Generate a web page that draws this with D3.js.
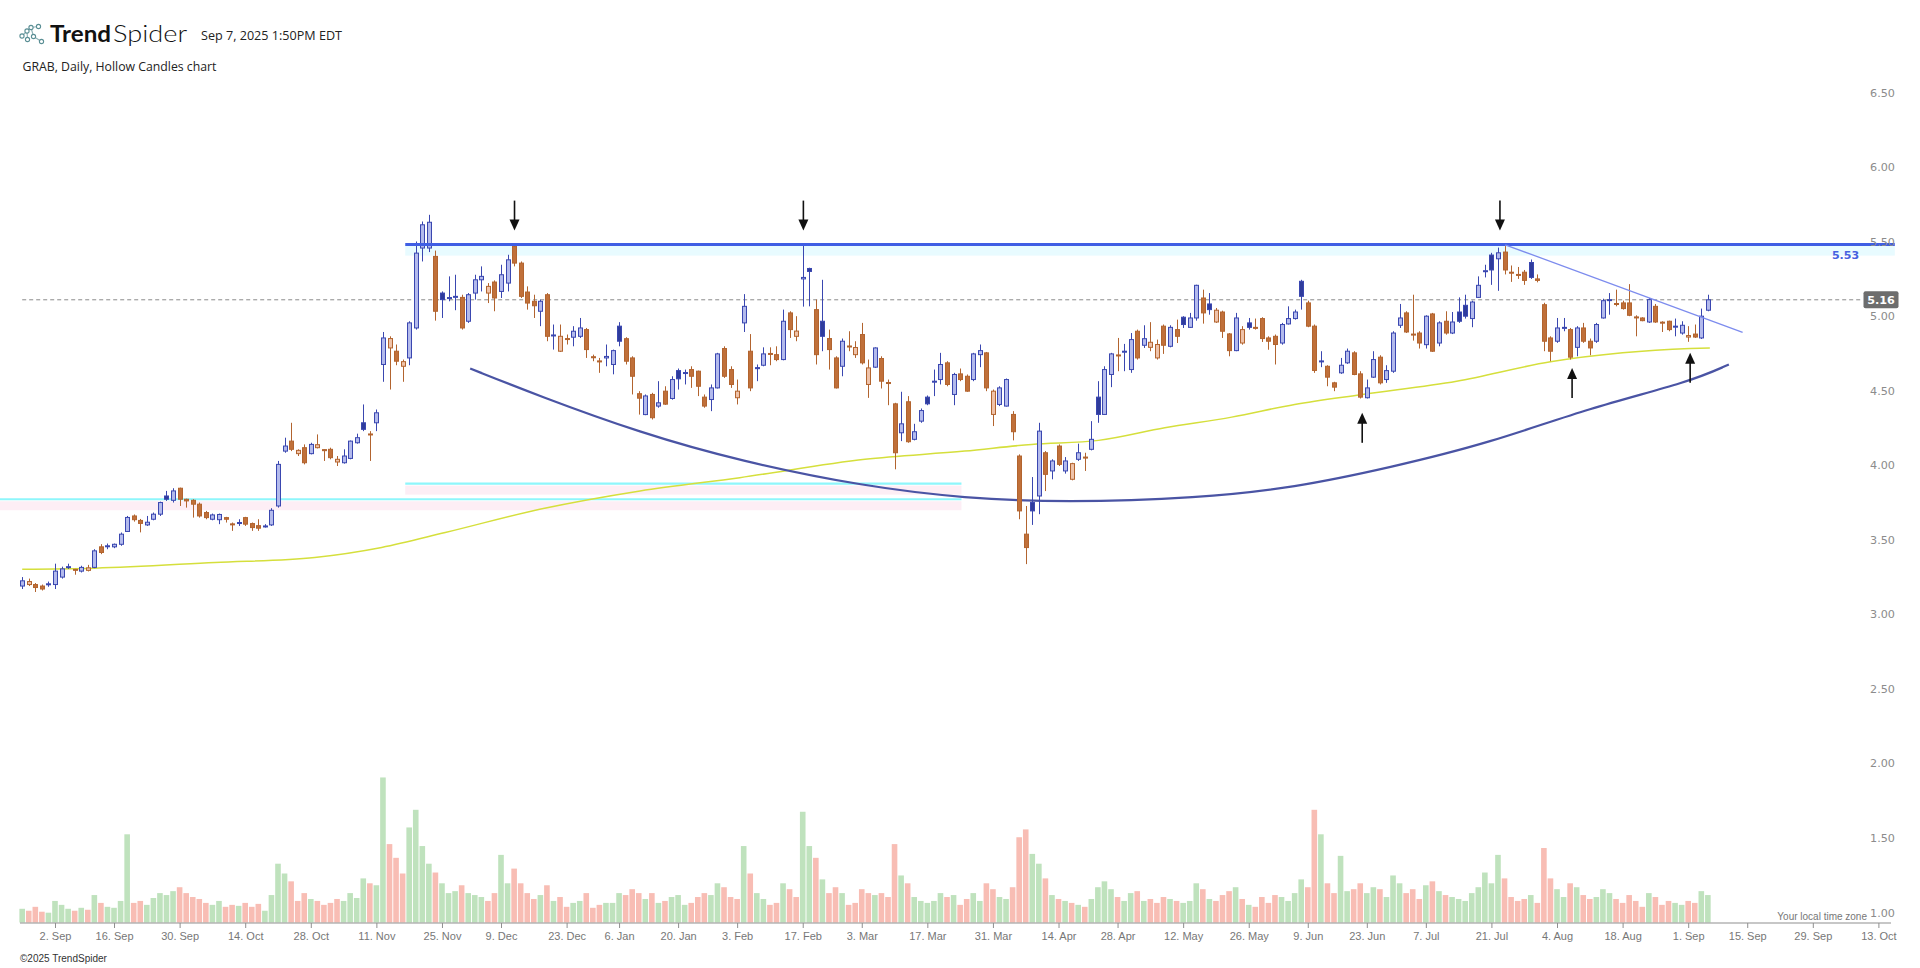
<!DOCTYPE html>
<html><head><meta charset="utf-8">
<script src="https://cdn.jsdelivr.net/npm/d3@7"></script>
<style>
html,body{margin:0;padding:0;background:#fff;}
svg{display:block;}
</style></head><body>
<svg id="chart" width="1920" height="968"></svg>
<script>
// ---------- categories ----------
const startDate = "2024-08-26";
const axisEndDate = "2025-10-17";
const holidays = ["2024-09-02","2024-11-28","2024-12-25","2025-01-01","2025-01-09","2025-01-20",
  "2025-02-17","2025-04-18","2025-05-26","2025-06-19","2025-07-04","2025-09-01"];
const xTickDates = ["2024-09-02","2024-09-16","2024-09-30","2024-10-14","2024-10-28","2024-11-11","2024-11-25",
  "2024-12-09","2024-12-23","2025-01-06","2025-01-20","2025-02-03","2025-02-17","2025-03-03","2025-03-17",
  "2025-03-31","2025-04-14","2025-04-28","2025-05-12","2025-05-26","2025-06-09","2025-06-23","2025-07-07",
  "2025-07-21","2025-08-04","2025-08-18","2025-09-01","2025-09-15","2025-09-29","2025-10-13"];
const xTickLabels = ["2. Sep","16. Sep","30. Sep","14. Oct","28. Oct","11. Nov","25. Nov","9. Dec","23. Dec",
  "6. Jan","20. Jan","3. Feb","17. Feb","3. Mar","17. Mar","31. Mar","14. Apr","28. Apr","12. May","26. May",
  "9. Jun","23. Jun","7. Jul","21. Jul","4. Aug","18. Aug","1. Sep","15. Sep","29. Sep","13. Oct"];
const yTickValues = [1.0,1.5,2.0,2.5,3.0,3.5,4.0,4.5,5.0,5.5,6.0,6.5];

// ---------- series values (GRAB daily) ----------
const opens = [
3.24,3.25,3.25,3.24,3.25,3.25,3.30,3.365,3.352,3.34,
3.345,3.365,3.503,3.505,3.503,3.52,3.606,3.71,3.68,3.65,
3.688,3.722,3.844,3.815,3.896,3.822,3.815,3.789,3.733,3.688,
3.685,3.699,3.657,3.66,3.699,3.659,3.645,3.64,3.65,3.777,
4.145,4.212,4.128,4.168,4.128,4.168,4.155,4.157,4.072,4.067,
4.096,4.201,4.335,4.26,4.335,4.726,4.837,4.815,4.714,4.77,
4.971,5.507,5.507,5.451,5.205,5.168,5.178,5.176,5.016,5.205,
5.294,5.205,5.279,5.216,5.272,5.518,5.406,5.212,5.15,5.083,
5.194,4.92,4.815,4.90,4.909,4.915,4.96,4.778,4.75,4.77,
4.726,4.983,4.899,4.77,4.53,4.39,4.525,4.447,4.547,4.498,
4.685,4.67,4.692,4.681,4.507,4.491,4.569,4.833,4.692,4.503,
5.005,4.815,4.705,4.721,4.80,4.792,4.759,5.072,4.915,5.30,
5.37,5.094,5.016,4.90,4.77,4.714,4.85,4.792,4.927,4.592,
4.708,4.766,4.605,4.462,4.268,4.476,4.224,4.346,4.507,4.612,
4.625,4.737,4.525,4.663,4.647,4.625,4.792,4.804,4.391,4.458,
4.447,4.391,4.112,3.588,3.80,3.844,4.134,4.012,4.179,4.012,
3.956,4.09,4.105,4.157,4.507,4.391,4.659,4.79,4.81,4.692,
4.949,4.855,4.841,4.77,4.983,4.848,4.96,5.043,4.975,5.038,
5.172,5.132,5.011,5.078,4.931,4.819,4.87,5.005,4.975,5.034,
4.904,4.915,4.87,4.998,5.034,5.284,5.139,4.983,4.745,4.714,
4.603,4.67,4.737,4.804,4.663,4.503,4.641,4.775,4.625,4.681,
4.989,5.072,4.93,4.937,4.859,5.065,4.87,5.016,4.937,5.078,
5.123,5.034,5.176,5.35,5.46,5.435,5.48,5.345,5.33,5.345,
5.41,5.30,5.127,4.904,4.882,4.97,4.96,4.841,4.971,4.882,
4.882,5.038,5.158,5.135,5.139,5.139,5.045,5.038,5.011,5.116,
5.01,5.016,4.98,4.937,4.91,4.93,4.904,5.09];
const highs = [
3.30,3.29,3.26,3.25,3.27,3.39,3.37,3.39,3.355,3.376,
3.382,3.487,3.521,3.525,3.525,3.599,3.71,3.72,3.69,3.71,
3.733,3.806,3.878,3.896,3.90,3.826,3.822,3.80,3.744,3.726,
3.726,3.704,3.666,3.688,3.704,3.666,3.688,3.655,3.762,4.079,
4.235,4.335,4.157,4.19,4.201,4.257,4.157,4.168,4.112,4.157,
4.216,4.262,4.458,4.279,4.424,4.944,4.915,4.86,4.759,5.016,
5.551,5.685,5.73,5.49,5.216,5.317,5.328,5.194,5.205,5.328,
5.384,5.272,5.29,5.395,5.462,5.53,5.417,5.25,5.194,5.161,
5.205,4.994,4.994,4.927,4.983,5.038,4.971,4.792,4.77,4.86,
4.826,5.01,4.909,4.781,4.547,4.525,4.536,4.614,4.58,4.647,
4.699,4.692,4.714,4.685,4.525,4.592,4.804,4.848,4.714,4.625,
5.198,4.93,4.726,4.841,4.841,4.848,5.094,5.083,5.05,5.54,
5.375,5.161,5.294,4.96,4.781,4.90,4.949,4.882,5.005,4.759,
4.841,4.781,4.625,4.469,4.543,4.514,4.328,4.431,4.518,4.692,
4.804,4.748,4.67,4.699,4.659,4.804,4.86,4.81,4.558,4.58,
4.632,4.413,4.123,3.777,3.971,4.335,4.145,4.09,4.19,4.105,
4.067,4.195,4.134,4.346,4.614,4.714,4.804,4.904,4.864,4.937,
4.96,4.989,5.01,4.893,4.994,4.989,5.027,5.05,5.072,5.261,
5.228,5.205,5.105,5.087,4.937,5.072,4.983,5.038,5.034,5.043,
4.915,4.927,5.005,5.116,5.094,5.294,5.154,4.994,4.815,4.721,
4.61,4.77,4.833,4.815,4.681,4.625,4.815,4.788,4.721,4.949,
5.132,5.083,5.194,4.949,5.056,5.072,5.016,5.083,5.078,5.176,
5.194,5.154,5.317,5.395,5.475,5.51,5.52,5.39,5.38,5.36,
5.43,5.33,5.14,4.915,5.038,5.038,4.971,4.983,5.005,4.90,
5.005,5.167,5.205,5.228,5.154,5.265,5.056,5.043,5.172,5.132,
5.016,5.02,5.034,5.016,4.983,4.994,5.101,5.194];
const lows = [
3.22,3.24,3.20,3.21,3.235,3.22,3.29,3.355,3.316,3.331,
3.338,3.36,3.454,3.487,3.494,3.51,3.603,3.672,3.60,3.643,
3.681,3.71,3.811,3.80,3.777,3.766,3.699,3.699,3.688,3.681,
3.655,3.666,3.61,3.643,3.643,3.61,3.61,3.632,3.643,3.766,
4.134,4.145,4.112,4.056,4.123,4.163,4.079,4.09,4.045,4.061,
4.09,4.195,4.279,4.079,4.279,4.61,4.558,4.721,4.61,4.721,
4.96,5.417,5.48,5.02,5.038,5.15,5.09,4.96,5.005,5.161,
5.216,5.138,5.083,5.172,5.216,5.384,5.172,5.094,5.038,4.983,
4.882,4.826,4.81,4.86,4.848,4.904,4.77,4.748,4.67,4.714,
4.66,4.848,4.726,4.525,4.39,4.386,4.357,4.436,4.455,4.49,
4.558,4.592,4.569,4.514,4.436,4.413,4.565,4.636,4.569,4.458,
4.944,4.547,4.614,4.714,4.721,4.748,4.754,4.904,4.882,5.114,
5.116,4.726,4.815,4.692,4.565,4.647,4.815,4.77,4.726,4.502,
4.703,4.565,4.453,4.023,4.212,4.201,4.217,4.335,4.453,4.514,
4.592,4.58,4.453,4.614,4.543,4.614,4.708,4.547,4.313,4.447,
4.444,4.217,3.688,3.387,3.65,3.722,3.877,3.956,4.045,3.994,
3.949,4.079,4.012,4.15,4.335,4.387,4.574,4.681,4.681,4.67,
4.759,4.837,4.815,4.759,4.797,4.841,4.87,4.971,4.971,5.02,
5.00,5.06,5.005,4.904,4.781,4.815,4.859,4.96,4.96,4.877,
4.825,4.726,4.859,4.994,5.027,5.094,4.976,4.67,4.708,4.58,
4.547,4.663,4.73,4.654,4.498,4.498,4.636,4.592,4.603,4.67,
4.971,4.937,4.886,4.833,4.833,4.81,4.848,4.926,4.93,5.005,
5.034,4.976,5.172,5.31,5.26,5.22,5.33,5.28,5.30,5.26,
5.30,5.277,4.815,4.748,4.871,4.949,4.759,4.781,4.871,4.788,
4.871,5.034,5.06,5.116,5.094,5.05,4.915,5.016,5.005,5.005,
4.944,4.949,4.915,4.926,4.878,4.904,4.897,5.083];
const closes = [
3.275,3.27,3.23,3.22,3.255,3.34,3.355,3.37,3.348,3.365,
3.362,3.476,3.465,3.51,3.52,3.588,3.70,3.685,3.66,3.668,
3.722,3.80,3.822,3.878,3.822,3.811,3.789,3.71,3.699,3.717,
3.72,3.688,3.655,3.666,3.655,3.632,3.628,3.643,3.748,4.056,
4.179,4.157,4.15,4.067,4.19,4.188,4.148,4.101,4.09,4.112,
4.212,4.235,4.291,4.257,4.402,4.904,4.90,4.748,4.745,5.005,
5.473,5.663,5.68,5.083,5.161,5.175,5.183,4.971,5.194,5.294,
5.317,5.25,5.172,5.328,5.428,5.406,5.183,5.138,5.12,5.15,
4.915,4.924,4.915,4.899,4.949,4.971,4.826,4.776,4.748,4.78,
4.819,4.882,4.748,4.647,4.50,4.515,4.369,4.469,4.46,4.625,
4.63,4.672,4.647,4.58,4.447,4.569,4.797,4.647,4.592,4.547,
5.116,4.569,4.698,4.797,4.795,4.759,5.016,4.96,4.95,5.31,
5.35,4.792,4.915,4.826,4.569,4.882,4.848,4.84,4.737,4.703,
4.837,4.614,4.603,4.134,4.328,4.208,4.275,4.417,4.462,4.614,
4.726,4.592,4.659,4.625,4.547,4.797,4.819,4.569,4.547,4.569,
4.625,4.275,3.744,3.498,3.744,4.279,3.989,4.079,4.056,4.079,
4.061,4.134,4.10,4.224,4.391,4.692,4.797,4.785,4.815,4.893,
4.77,4.899,4.875,4.86,4.855,4.975,4.915,4.994,5.038,5.257,
5.072,5.094,5.09,4.949,4.819,5.038,4.96,4.975,4.97,4.90,
4.882,4.86,4.994,5.034,5.078,5.183,4.983,4.686,4.75,4.641,
4.574,4.721,4.815,4.659,4.507,4.569,4.759,4.603,4.685,4.937,
5.038,4.944,4.926,4.87,5.05,4.815,5.005,4.937,5.011,5.016,
5.05,5.145,5.257,5.355,5.36,5.475,5.36,5.34,5.325,5.29,
5.31,5.29,4.882,4.815,4.971,4.975,4.775,4.971,4.882,4.837,
4.994,5.154,5.161,5.132,5.101,5.056,5.043,5.02,5.161,5.011,
5.005,4.96,4.983,4.989,4.92,4.91,5.05,5.16];
// volume, millions of shares
const volumes = [
14,12,16,11,10,22,18,14,12,15,
13,28,20,16,15,22,90,20,22,18,
25,30,28,32,36,30,26,24,20,18,
22,16,18,17,20,16,19,12,28,60,
50,42,22,30,24,22,18,20,24,22,
30,25,45,40,38,148,80,66,50,97,
115,78,60,51,40,30,32,38,30,28,
26,22,30,69,40,55,40,30,24,28,
38,22,26,16,20,22,30,15,18,20,
20,30,28,34,30,24,30,20,22,26,
28,18,20,26,30,28,40,36,26,24,
78,50,30,24,18,20,40,34,26,113,
78,66,44,30,36,30,18,20,34,30,
28,30,26,80,48,40,26,22,20,22,
30,26,28,18,24,30,22,40,34,26,
24,36,87,95,70,60,45,28,24,22,
20,18,16,24,36,42,34,26,22,30,
32,22,24,20,26,24,22,20,22,40,
34,24,22,28,32,36,24,18,16,26,
20,28,26,22,30,44,36,115,90,40,
30,68,32,34,40,30,36,34,26,48,
40,30,34,24,38,42,32,28,26,24,
22,30,36,51,40,69,45,26,22,24,
28,20,76,45,34,26,40,36,28,24,
26,34,30,24,20,28,22,16,30,26,
18,22,20,18,22,20,32,28];

// 200-day moving average, read at sample points [candle index, price]
const ma200 = [[0,3.353],[11.1,3.36],[29.4,3.398],[44.6,3.432],[54.8,3.499],[64.5,3.599],[78.9,3.755],
  [94.2,3.878],[109.4,3.967],[128.5,4.09],[143.7,4.145],[153.9,4.19],[164.1,4.217],[174.2,4.302],
  [184.4,4.373],[194,4.458],[204.3,4.525],[218.7,4.614],[233,4.744],[244,4.804],[254.3,4.833],[257.3,4.837]];

// drawn annotations [candle index, price]
const cupArc = [[68.3,4.699],[78.9,4.513],[94.2,4.268],[109.4,4.078],[128.5,3.907],[143.7,3.829],[159,3.799],
  [179.3,3.829],[194,3.90],[208.5,4.034],[223.8,4.20],[239,4.436],[254.3,4.61],[260.2,4.726]];
const trendLine = [[226.1,5.529],[262.3,4.942]];
const resistance = {price:5.53, from:58.4, to:285.5};
const lastPrice = 5.16;
const cyanLevels = [{price:3.822, from:-3.4, to:143.2},{price:3.927, from:58.4, to:143.2}];
const downArrows = [[75.06,5.624],[119.1,5.624],[225.3,5.624]];
const upArrows = [[204.3,4.402],[236.3,4.703],[254.3,4.804]];

// ---------- build ----------
function tradingDays(from, to){
  const out=[]; const d=new Date(from+"T12:00:00Z"); const end=new Date(to+"T12:00:00Z");
  const fmt=d3.utcFormat("%Y-%m-%d");
  while(d<=end){ const wd=d.getUTCDay(); const s=fmt(d);
    if(wd!==0 && wd!==6 && !holidays.includes(s)) out.push(s);
    d.setUTCDate(d.getUTCDate()+1); }
  return out;
}
const days = tradingDays(startDate, axisEndDate);
const tickIdx = xTickDates.map(t => days.findIndex(s => s >= t));

const svg = d3.select("#chart");
const x = d3.scaleLinear().domain([0, 283]).range([22.2, 1878.4]);
const y = d3.scaleLinear().domain([1, 6.5]).range([920, 100]);
const vh = d3.scaleLinear().domain([0, 150]).range([0, 147]);
const baseY = 922.5;

const BLUE = "#3a47b0", BLUE_DARK = "#2f3c9c", BLUE_LIGHT = "#b3baec";
const ORANGE = "#b2642f", ORANGE_DARK = "#c0703a", ORANGE_LIGHT = "#efc3aa";
const VOL_UP = "#bfe2bd", VOL_DN = "#f8bdb4";

const candles = opens.map((o,i)=>({i, o, h:highs[i], l:lows[i], c:closes[i], v:volumes[i],
  up: i===0 ? closes[i]>=o : closes[i]>=closes[i-1], hollow: closes[i]>o}));

// header
svg.append("rect").attr("width",1920).attr("height",968).attr("fill","#fff");
const logo = svg.append("g").attr("fill","none").attr("stroke","#5b8f95").attr("stroke-width",1.1);
[[[22,36],[27,31]],[[27,31],[31,27.5]],[[31,27.5],[38,26.5]],[[31,27.5],[33.5,36.5]],[[33.5,36.5],[41.5,41.5]],[[27,31],[27.5,39]]]
  .forEach(s=>logo.append("line").attr("x1",s[0][0]).attr("y1",s[0][1]).attr("x2",s[1][0]).attr("y2",s[1][1]).attr("stroke-opacity",0.7));
[[22,36],[27,31],[31,27.5],[38.5,26.5],[33.5,36.5],[41.5,41.5],[27.5,39.5]].forEach(p=>
  logo.append("circle").attr("cx",p[0]).attr("cy",p[1]).attr("r",2.1).attr("fill","#fff"));
svg.append("text").attr("x",50).attr("y",41.7).attr("font-family","Lato, 'Open Sans', sans-serif")
  .attr("font-weight",700).attr("font-size",23).attr("fill","#111").attr("textLength",61).attr("lengthAdjust","spacingAndGlyphs").text("Trend");
svg.append("text").attr("x",113).attr("y",41.7).attr("font-family","Lato, 'Open Sans', sans-serif")
  .attr("font-weight",300).attr("font-size",23).attr("fill","#111").attr("textLength",74).attr("lengthAdjust","spacingAndGlyphs").text("Spider");
svg.append("text").attr("x",201).attr("y",39.5).attr("font-family","'Open Sans', sans-serif")
  .attr("font-size",12.5).attr("fill","#222").attr("textLength",141).attr("lengthAdjust","spacingAndGlyphs").text("Sep 7, 2025 1:50PM EDT");
svg.append("text").attr("x",22.5).attr("y",70.8).attr("font-family","'Open Sans', sans-serif")
  .attr("font-size",12).attr("fill","#222").attr("textLength",194).attr("lengthAdjust","spacingAndGlyphs").text("GRAB, Daily, Hollow Candles chart");

// volume
svg.append("g").selectAll("rect").data(candles).join("rect")
  .attr("x",d=>x(d.i)-2.8).attr("width",5.6)
  .attr("y",d=>baseY-vh(d.v)).attr("height",d=>vh(d.v))
  .attr("fill",d=>d.up?VOL_UP:VOL_DN);

// cyan levels (with faint pink halo)
cyanLevels.forEach(c=>{
  svg.append("rect").attr("x",x(c.from)).attr("width",x(c.to)-x(c.from)).attr("y",y(c.price)+2).attr("height",9)
    .attr("fill","#fdeef5");
});
cyanLevels.forEach(c=>{
  svg.append("line").attr("x1",x(c.from)).attr("x2",x(c.to)).attr("y1",y(c.price)).attr("y2",y(c.price))
    .attr("stroke","#8ef6fb").attr("stroke-width",2.2);
});

// resistance zone band
svg.append("rect").attr("x",x(resistance.from)).attr("width",x(resistance.to)-x(resistance.from))
  .attr("y",y(resistance.price)).attr("height",11).attr("fill","#e8fbff");

// 200 MA
svg.append("path").datum(ma200).attr("fill","none").attr("stroke","#d5df3c").attr("stroke-width",1.5)
  .attr("d",d3.line().x(d=>x(d[0])).y(d=>y(d[1])).curve(d3.curveMonotoneX));

// cup arc
svg.append("path").datum(cupArc).attr("fill","none").attr("stroke","#4a54a4").attr("stroke-width",2.2)
  .attr("d",d3.line().x(d=>x(d[0])).y(d=>y(d[1])).curve(d3.curveBasis));

// last price dashed line
svg.append("line").attr("x1",x(0)).attr("x2",1863).attr("y1",y(lastPrice)).attr("y2",y(lastPrice))
  .attr("stroke","#8a8a8a").attr("stroke-width",1).attr("stroke-dasharray","4,3");

// candles
const gC = svg.append("g");
gC.selectAll("line").data(candles).join("line")
  .attr("x1",d=>Math.round(x(d.i))+0.5).attr("x2",d=>Math.round(x(d.i))+0.5)
  .attr("y1",d=>y(d.h)).attr("y2",d=>y(d.l))
  .attr("stroke",d=>d.up?BLUE:ORANGE).attr("stroke-width",1);
gC.selectAll("rect").data(candles).join("rect")
  .attr("x",d=>Math.round(x(d.i))-1.5).attr("width",4)
  .attr("y",d=>y(Math.max(d.o,d.c))).attr("height",d=>Math.max(1,Math.abs(y(d.o)-y(d.c))))
  .attr("fill",d=>d.hollow?(d.up?BLUE_LIGHT:ORANGE_LIGHT):(d.up?BLUE_DARK:ORANGE_DARK))
  .attr("stroke",d=>d.up?BLUE:ORANGE).attr("stroke-width",1);

// resistance line
svg.append("line").attr("x1",x(resistance.from)).attr("x2",x(resistance.to))
  .attr("y1",y(resistance.price)).attr("y2",y(resistance.price)).attr("stroke","#3f5ee4").attr("stroke-width",3);
// trend line
svg.append("path").datum(trendLine).attr("fill","none").attr("stroke","#7d8cee").attr("stroke-width",1.3)
  .attr("d",d3.line().x(d=>x(d[0])).y(d=>y(d[1])));

// arrows
function arrow(px, tipY, dir){ // dir: +1 pointing down, -1 pointing up
  const len=30, head=11, hw=5;
  const tail = tipY - dir*len;
  svg.append("line").attr("x1",px).attr("x2",px).attr("y1",tail).attr("y2",tipY-dir*head+dir*1)
    .attr("stroke","#111").attr("stroke-width",1.6);
  svg.append("path").attr("d",`M${px-hw},${tipY-dir*head}L${px+hw},${tipY-dir*head}L${px},${tipY}Z`).attr("fill","#111");
}
downArrows.forEach(a=>arrow(x(a[0]), y(a[1]), 1));
upArrows.forEach(a=>arrow(x(a[0]), y(a[1]), -1));

// y axis labels
const yAxis = svg.append("g").attr("transform","translate(1895,0)")
  .call(d3.axisLeft(y).tickValues(yTickValues).tickFormat(d3.format(".2f")).tickSize(0).tickPadding(0));
yAxis.select(".domain").remove();
yAxis.selectAll("text").attr("dy","-4px").attr("font-family","'DejaVu Sans', sans-serif").attr("font-size",11.2).attr("fill","#8c8c8c");

// resistance label & last price tag
svg.append("text").attr("x",1845.5).attr("y",258.8).attr("text-anchor","middle").attr("font-family","'DejaVu Sans', sans-serif")
  .attr("font-size",11).attr("font-weight",700).attr("fill","#4661e0").text(resistance.price.toFixed(2));
svg.append("rect").attr("x",1863.5).attr("y",y(lastPrice)-8.5).attr("width",35).attr("height",17).attr("rx",2).attr("fill","#6d6d6d");
svg.append("text").attr("x",1881).attr("y",y(lastPrice)+4).attr("text-anchor","middle").attr("font-family","'DejaVu Sans', sans-serif")
  .attr("font-size",11.2).attr("font-weight",700).attr("fill","#fff").text(lastPrice.toFixed(2));

// x axis
svg.append("line").attr("x1",20).attr("x2",1891).attr("y1",923).attr("y2",923).attr("stroke","#8f8f8f").attr("stroke-width",1.2);
const xAxis = svg.append("g").attr("transform","translate(0,923)")
  .call(d3.axisBottom(x).tickValues(tickIdx).tickFormat((d,k)=>xTickLabels[k]).tickSize(5).tickSizeOuter(0).tickPadding(4));
xAxis.select(".domain").remove();
xAxis.selectAll(".tick line").attr("stroke","#8f8f8f");
xAxis.selectAll("text").attr("font-family","'Liberation Sans', Arial, sans-serif").attr("font-size",11).attr("fill","#777");

svg.append("text").attr("x",1867).attr("y",920).attr("text-anchor","end").attr("font-family","'Liberation Sans', Arial, sans-serif")
  .attr("font-size",10).attr("fill","#777").text("Your local time zone");
svg.append("text").attr("x",20).attr("y",962).attr("font-family","'Liberation Sans', Arial, sans-serif")
  .attr("font-size",10).attr("fill","#333").text("©2025 TrendSpider");
</script></body></html>
